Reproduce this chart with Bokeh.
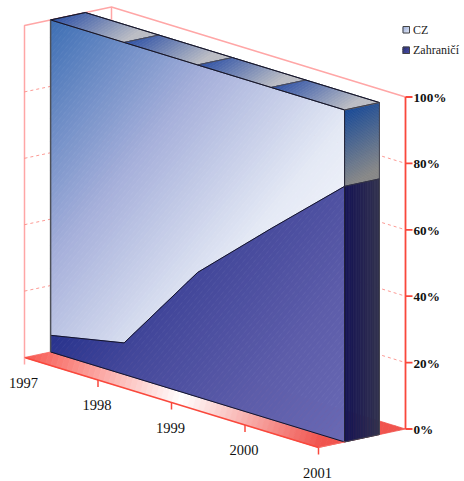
from bokeh.plotting import figure
from bokeh.models import Range1d
from bokeh.core.properties import value
from bokeh.embed import file_html
from bokeh.resources import INLINE

# ---- data ----
years = ["1997", "1998", "1999", "2000", "2001"]
zahranici = [5, 9.5, 37.5, 57.5, 77]
cz = [95, 90.5, 62.5, 42.5, 23]
y_ticks = [0, 20, 40, 60, 80, 100]
y_labels = ["0%", "20%", "40%", "60%", "80%", "100%"]
series_names = ["CZ", "Zahraničí"]

W, H = 464, 481
p = figure(width=W, height=H, output_backend="svg", toolbar_location=None,
           x_range=Range1d(0, W), y_range=Range1d(H, 0), min_border=0,
           outline_line_color=None, background_fill_color="white", border_fill_color="white")
p.axis.visible = False
p.grid.visible = False

SERIF = value("Liberation Serif")
Z0, Z1 = 0.3, 0.7


def proj(x, y, z):
    return (24 + 73.5 * x + 87 * z, 357 + 22.5 * x - 3.32 * y - 18.5 * z)


def clip(poly, a, d, t, keep_above):
    def f(q):
        v = (q[0] - a[0]) * d[0] + (q[1] - a[1]) * d[1]
        return v - t if keep_above else t - v
    out = []
    for i in range(len(poly)):
        c, n = poly[i], poly[(i + 1) % len(poly)]
        fc, fn = f(c), f(n)
        if fc >= 0:
            out.append(c)
        if (fc >= 0) != (fn >= 0):
            s = fc / (fc - fn)
            out.append((c[0] + s * (n[0] - c[0]), c[1] + s * (n[1] - c[1])))
    return out


def mix(stops, t):
    t = max(0.0, min(1.0, t))
    for (t0, c0), (t1, c1) in zip(stops, stops[1:]):
        if t <= t1:
            s = (t - t0) / (t1 - t0)
            return "#%02x%02x%02x" % tuple(round(c0[k] + s * (c1[k] - c0[k])) for k in range(3))
    return "#%02x%02x%02x" % tuple(stops[-1][1])


def grad(poly, a, b, stops, n=60):
    dx, dy = b[0] - a[0], b[1] - a[1]
    L = dx * dx + dy * dy
    d = (dx / L, dy / L)
    ts = [(q[0] - a[0]) * d[0] + (q[1] - a[1]) * d[1] for q in poly]
    lo, hi = min(ts), max(ts)
    xs, ys, cols = [], [], []
    for i in range(n):
        t0 = lo + (hi - lo) * i / n
        t1 = lo + (hi - lo) * (i + 1) / n
        part = clip(clip(poly, a, d, t0, True), a, d, t1, False)
        if len(part) >= 3:
            xs.append([q[0] for q in part])
            ys.append([q[1] for q in part])
            cols.append(mix(stops, (t0 + t1) / 2))
    p.patches(xs, ys, fill_color=cols, line_color=cols, line_width=0.8)


def line(pts, **kw):
    p.line([q[0] for q in pts], [q[1] for q in pts], **kw)


N = len(years) - 1
PINK = "#ffa6a6"
RED = "#f9483c"

# walls
line([proj(0, 0, 0), proj(0, 100, 0), proj(0, 100, 1), proj(N, 100, 1)], line_color=PINK, line_width=1.5)
line([proj(0, 100, 1), proj(0, 0, 1)], line_color=PINK, line_width=1.5)
for v in y_ticks[1:-1]:
    line([proj(0, v, 0), proj(0, v, 1), proj(N, v, 1)], line_color="#fb8078", line_width=0.8, line_dash="3 3")

# floor
floor_stops = [(0, (247, 88, 80)), (0.53, (255, 255, 255)), (1, (240, 84, 78))]
a_f, b_f = proj(0, 0, 0), proj(N, 0, 0)
grad([proj(0, 0, 0), proj(0, 0, 1), proj(N, 0, 1), proj(N, 0, 0)], a_f, b_f, floor_stops, n=70)

# front faces
top_front = [proj(i, 100, Z0) for i in range(N + 1)]
mid_front = [proj(i, zahranici[i], Z0) for i in range(N + 1)]
base_front = [proj(i, 0, Z0) for i in range(N + 1)]
grad(mid_front[::-1] + [top_front[0], top_front[-1]], (50, 19), (306, 232),
     [(0, (60, 110, 180)), (0.46, (165, 175, 218)), (0.88, (228, 233, 245)), (1, (236, 239, 248))], n=90)
grad(base_front + mid_front[::-1], (50, 345), (269, 527),
     [(0, (42, 52, 142)), (0.26, (68, 72, 155)), (0.67, (93, 93, 170)), (1, (105, 105, 180))], n=70)

# right side faces
s_top = [proj(N, 100, Z0), proj(N, 100, Z1)]
s_mid = [proj(N, zahranici[N], Z0), proj(N, zahranici[N], Z1)]
s_bot = [proj(N, 0, Z0), proj(N, 0, Z1)]
grad([s_top[0], s_top[1], s_mid[1], s_mid[0]], s_top[0], (s_mid[1][0], s_mid[1][1] - 10),
     [(0, (22, 72, 150)), (1, (135, 135, 135))])
grad([s_mid[0], s_mid[1], s_bot[1], s_bot[0]], s_mid[0], (s_mid[1][0], s_mid[0][1]),
     [(0, (22, 20, 85)), (1, (50, 50, 78))], n=20)

# top faces per year segment
for i in range(N):
    q = [proj(i, 100, Z0), proj(i, 100, Z1), proj(i + 1, 100, Z1), proj(i + 1, 100, Z0)]
    grad(q, q[0], (q[0][0] + 33, q[0][1] + 49.5), [(0, (45, 80, 165)), (1, (187, 189, 196))], n=30)
    line(q + [q[0]], line_color="#4a4a55", line_width=1)

# edges
DARK = "#14142a"
line(top_front, line_color=DARK, line_width=1)
line(mid_front, line_color=DARK, line_width=1)
line(base_front, line_color=DARK, line_width=1)
line([top_front[0], base_front[0]], line_color="#4d5058", line_width=1.5)
line([top_front[-1], base_front[-1]], line_color="#222233", line_width=1)
line([top_front[0], proj(0, 100, Z1)], line_color=DARK, line_width=1)
line([proj(i, 100, Z1) for i in range(N + 1)], line_color=DARK, line_width=1)
line([s_top[0], s_top[1], s_bot[1], s_bot[0]], line_color="#444450", line_width=1)
line(s_mid, line_color="#333344", line_width=1)

# axes
line([proj(0, 0, 0), proj(N, 0, 0)], line_color=RED, line_width=1.5)
line([proj(N, 0, 0), proj(N, 0, Z0)], line_color="#f97068", line_width=1)
axis_top, axis_bot = proj(N, 100, 1), proj(N, 0, 1)
line([axis_bot, axis_top], line_color=RED, line_width=1.8)
for i, lab in enumerate(years):
    q = proj(i, 0, 0)
    line([q, (q[0], q[1] + 7)], line_color=PINK if i == 0 else RED, line_width=1.5)
    p.text([q[0] - 1], [q[1] + 25], text=[lab], text_font=SERIF, text_font_size="14.5px",
           text_align="center", text_baseline="middle", text_color="#111111")
for v, lab in zip(y_ticks, y_labels):
    q = proj(N, v, 1)
    line([q, (q[0] + 7, q[1])], line_color=RED, line_width=1.8)
    p.text([q[0] + 8], [q[1] + 0.5], text=[lab], text_font=SERIF, text_font_size="13.2px",
           text_font_style="bold", text_align="left", text_baseline="middle", text_color="#111111")

# legend
lx, ly = 402.5, [26, 46.5]
swatches = [[(0, (150, 170, 215)), (1, (225, 230, 245))], [(0, (30, 35, 110)), (1, (70, 75, 165))]]
for name, yy, st in zip(series_names, ly, swatches):
    sq = [(lx, yy), (lx + 6.5, yy), (lx + 6.5, yy + 6.5), (lx, yy + 6.5)]
    grad(sq, sq[0], sq[2], st, n=6)
    line(sq + [sq[0]], line_color="#444444", line_width=1)
    p.text([lx + 10], [yy + 3], text=[name], text_font=SERIF, text_font_size="12px",
           text_align="left", text_baseline="middle", text_color="#222222")

open("out.html", "w").write(file_html(p, INLINE))
